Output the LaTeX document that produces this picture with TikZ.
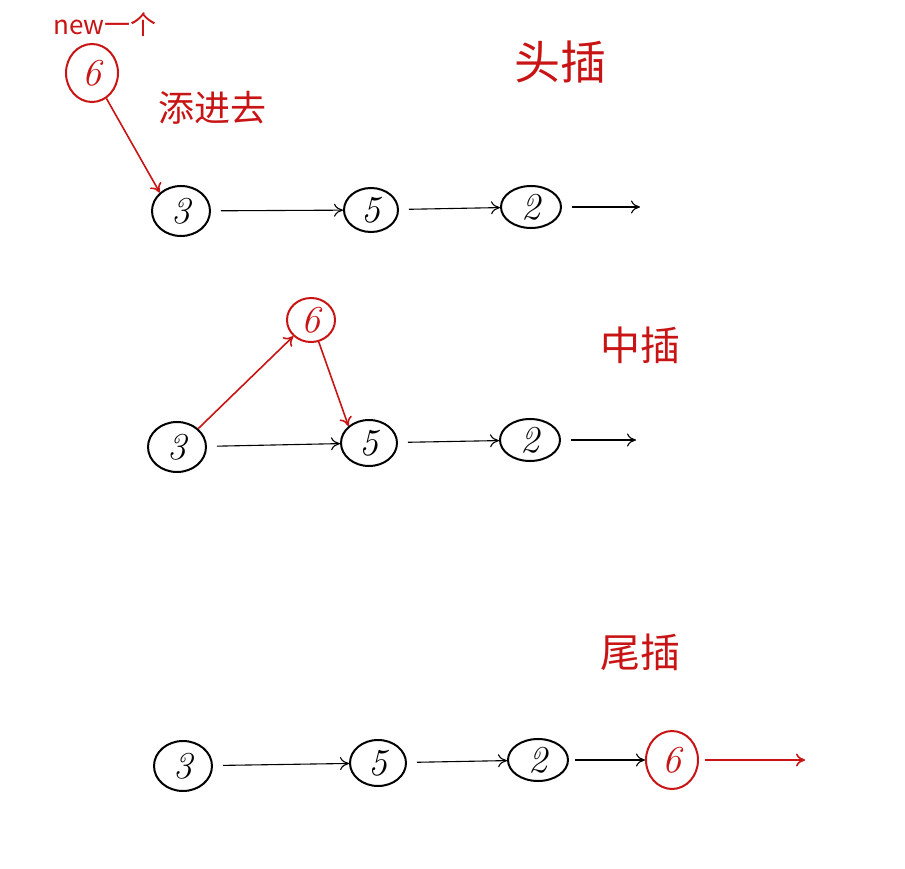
\documentclass[tikz,border=0pt]{standalone}
\usepackage{fontspec}
\newfontfamily\cjk{Noto Sans CJK SC}
\usetikzlibrary{shapes.geometric,arrows.meta}
\definecolor{inkred}{RGB}{200,20,20}
\tikzset{
  x=1pt,y=-1pt,
  nd/.style={ellipse,draw=black,line width=2pt,minimum width=58pt,minimum height=50pt,inner sep=0pt,font=\fontsize{38}{38}\selectfont\itshape},
  rnd/.style={nd,draw=inkred,text=inkred},
  link/.style={-{To[length=9pt,width=13pt]},line width=1.1pt,black,shorten <=10pt},
  rlink/.style={link,draw=inkred,line width=1.6pt},
  lbl/.style={text=inkred,font=\cjk\fontsize{40}{40}\selectfont},
}
\begin{document}
\begin{tikzpicture}
\useasboundingbox (0,0) rectangle (905,869);
% row 1
\node[rnd,minimum width=52pt,minimum height=58pt] (n6a) at (92,73) {6};
\node[text=inkred,font=\cjk\fontsize{26}{26}\selectfont] (newt) at (105,25) {new一个};
\node[lbl,font=\cjk\fontsize{36}{36}\selectfont] (tjq) at (212,108) {添进去};
\node[lbl,font=\cjk\fontsize{46}{46}\selectfont] (tc) at (560,62) {头插};
\node[nd] (a3) at (181,211) {3};
\node[nd,minimum width=54pt,minimum height=44pt] (a5) at (371,210) {5};
\node[nd,minimum width=60pt,minimum height=42pt] (a2) at (531,207) {2};
\coordinate (aend) at (640,207);
\draw[rlink,shorten <=0pt] (n6a) -- (a3.north west);
\draw[link] (a3) -- (a5);
\draw[link] (a5) -- (a2);
\draw[link] (a2) -- (aend);
% row 2
\node[lbl] (zc) at (640,345) {中插};
\node[nd] (b3) at (177,447) {3};
\node[rnd,minimum width=48pt,minimum height=44pt] (b6) at (311,320) {6};
\node[nd,minimum width=56pt,minimum height=46pt] (b5) at (369,443) {5};
\node[nd,minimum width=60pt,minimum height=42pt] (b2) at (530,440) {2};
\coordinate (bend) at (636,440);
\draw[rlink,shorten <=0pt] (b3.north east) -- (b6.south west);
\draw[rlink,shorten <=0pt] (b6) -- (b5.north west);
\draw[link] (b3) -- (b5);
\draw[link] (b5) -- (b2);
\draw[link] (b2) -- (bend);
% row 3
\node[lbl] (wc) at (640,652) {尾插};
\node[nd] (c3) at (183,766) {3};
\node[nd,minimum width=56pt,minimum height=46pt] (c5) at (378,763) {5};
\node[nd,minimum width=60pt,minimum height=42pt] (c2) at (538,760) {2};
\node[rnd,minimum width=52pt,minimum height=58pt] (c6) at (672,760) {6};
\coordinate (cend) at (805,760);
\draw[link] (c3) -- (c5);
\draw[link] (c5) -- (c2);
\draw[link,shorten <=6pt] (c2) -- (c6);
\draw[rlink,shorten <=6pt] (c6) -- (cend);
\end{tikzpicture}
\end{document}
